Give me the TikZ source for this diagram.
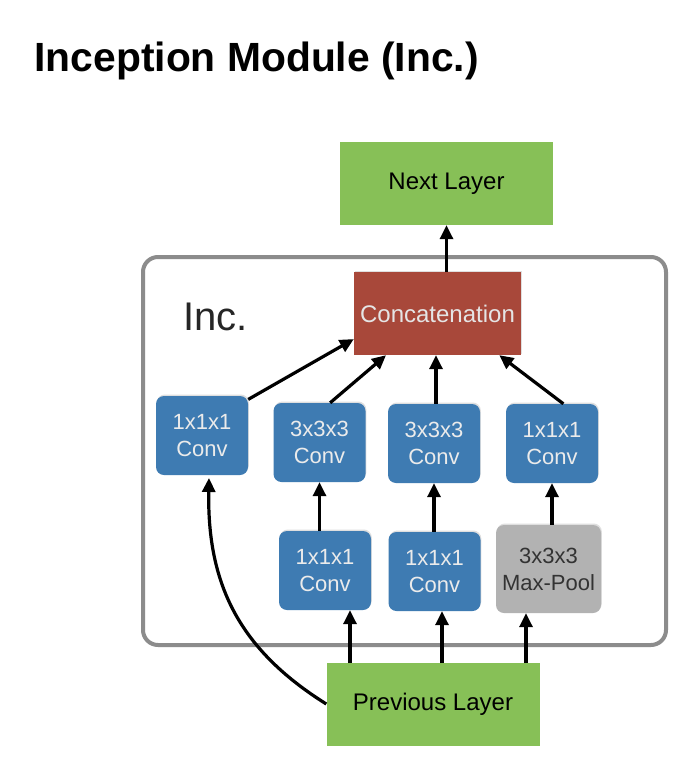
\documentclass[tikz,border=0pt]{standalone}
\usepackage{fontspec}
\setmainfont{Liberation Sans}
\usepackage{tikz}
\usetikzlibrary{arrows.meta,shadows}
\definecolor{layergreen}{HTML}{87C057}
\definecolor{convblue}{HTML}{3E7BB2}
\definecolor{concatred}{HTML}{A8483A}
\definecolor{poolgray}{HTML}{B2B2B2}
\definecolor{framegray}{HTML}{8C8C8C}
\tikzset{
ARROW/.style ={draw=black,line width=3.2pt,-{Triangle[length=14pt,width=13pt]}},
BOX/.style ={inner sep=0pt,align=center,font=\fontsize{24}{28}\selectfont},
CONV/.style ={BOX,fill=convblue,text=white!92!black,rounded corners=8pt,
  font=\fontsize{22}{27}\selectfont,
  minimum width=92pt,minimum height=79pt,
  drop shadow={opacity=0.25,shadow xshift=0.8pt,shadow yshift=1.5pt}},
LAYER/.style ={BOX,fill=layergreen,minimum width=213pt,minimum height=83pt},
}

\begin{document}
\begin{tikzpicture}
[x=1pt, y=-1pt]
	\useasboundingbox[fill=white] (0,0) rectangle (686,760);
	\node[anchor=base west, font=\fontsize{40.8}{48}\selectfont\bfseries] (title) at (31,71) {Inception Module (Inc.)};
	\draw[framegray, line width=4pt, rounded corners=15pt] (143,257) rectangle (666,645);
	\node[anchor=base west, font=\fontsize{40}{46}\selectfont, text=black!85] (inc) at (180,330) {Inc.};
	% layers
	\node[LAYER] (next) at (446.5,183.5) {Next Layer};
	\node[LAYER] (prev) at (433,704) {Previous Layer};
	\node[BOX, fill=concatred, text=white!90!black, minimum width=167pt, minimum height=83pt,
	  drop shadow={opacity=0.25,shadow xshift=0.8pt,shadow yshift=1.5pt}] (concat) at (437.5,313.5) {Concatenation};
	% top row
	\node[CONV] (c1) at (202,435.5) {1x1x1\\Conv};
	\node[CONV] (c3a) at (319.5,442.5) {3x3x3\\Conv};
	\node[CONV] (c3b) at (434,443.5) {3x3x3\\Conv};
	\node[CONV] (c1p) at (552,443.5) {1x1x1\\Conv};
	% bottom row
	\node[CONV] (r1) at (325,570.5) {1x1x1\\Conv};
	\node[CONV] (r2) at (434.5,571.5) {1x1x1\\Conv};
	\node[CONV, fill=poolgray, text=black!80, minimum width=105pt, minimum height=88pt] (pool) at (548.5,569) {3x3x3\\Max-Pool};
	% connectors
	\draw[ARROW] (concat.north -| next) -- (next.south);
	\draw[ARROW] (c1.38) -- (concat.197);
	\draw[ARROW] (c3a.75) -- (concat.219);
	\draw[ARROW] (c3b.north -| 436,0) -- (concat.south -| 436,0);
	\draw[ARROW] (c1p.74) -- (concat.326);
	\foreach \a/\b in {r1/c3a,r2/c3b,pool/c1p}
	  \draw[ARROW] (\b.south |- \a.north) -- (\b.south);
	\foreach \x/\b in {350/r1,442/r2,526/pool} {
	  \coordinate (p\b) at (\x,663);
	  \draw[ARROW] (p\b) -- (p\b |- \b.south);}
	\coordinate (skip) at (209,478);
	\draw[ARROW] (prev.west) .. controls (240,650) and (207,585) .. (skip);
\end{tikzpicture}
\end{document}
